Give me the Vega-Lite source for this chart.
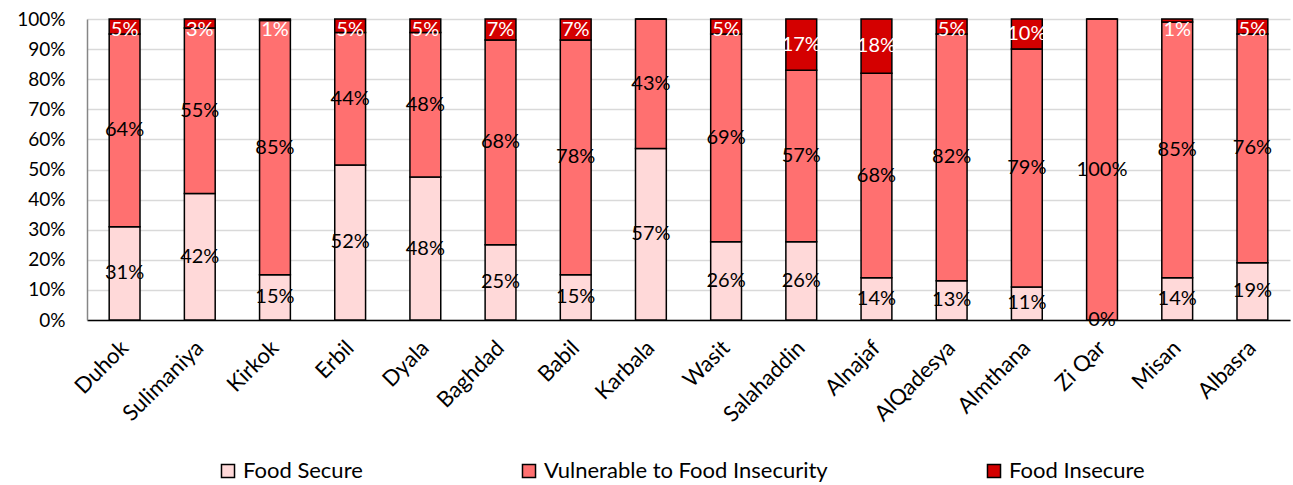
{
  "$schema": "https://vega.github.io/schema/vega-lite/v6.json",
  "width": 1203,
  "height": 301,
  "autosize": {"type": "none"},
  "padding": {"left": 87, "top": 19, "right": 3, "bottom": 165},
  "background": "white",
  "config": {
    "font": "Lato",
    "view": {"stroke": null},
    "axis": {"labelFont": "Lato", "labelColor": "#000000"}
  },
  "data": {
    "values": [
      {"region": "Duhok", "cat": "Food Secure", "idx": 1, "v": 0.31},
      {"region": "Duhok", "cat": "Vulnerable to Food Insecurity", "idx": 2, "v": 0.64},
      {"region": "Duhok", "cat": "Food Insecure", "idx": 3, "v": 0.05},
      {"region": "Sulimaniya", "cat": "Food Secure", "idx": 1, "v": 0.42},
      {"region": "Sulimaniya", "cat": "Vulnerable to Food Insecurity", "idx": 2, "v": 0.55},
      {"region": "Sulimaniya", "cat": "Food Insecure", "idx": 3, "v": 0.03},
      {"region": "Kirkok", "cat": "Food Secure", "idx": 1, "v": 0.15},
      {"region": "Kirkok", "cat": "Vulnerable to Food Insecurity", "idx": 2, "v": 0.845},
      {"region": "Kirkok", "cat": "Food Insecure", "idx": 3, "v": 0.005},
      {"region": "Erbil", "cat": "Food Secure", "idx": 1, "v": 0.515},
      {"region": "Erbil", "cat": "Vulnerable to Food Insecurity", "idx": 2, "v": 0.44},
      {"region": "Erbil", "cat": "Food Insecure", "idx": 3, "v": 0.045},
      {"region": "Dyala", "cat": "Food Secure", "idx": 1, "v": 0.475},
      {"region": "Dyala", "cat": "Vulnerable to Food Insecurity", "idx": 2, "v": 0.48},
      {"region": "Dyala", "cat": "Food Insecure", "idx": 3, "v": 0.045},
      {"region": "Baghdad", "cat": "Food Secure", "idx": 1, "v": 0.25},
      {"region": "Baghdad", "cat": "Vulnerable to Food Insecurity", "idx": 2, "v": 0.68},
      {"region": "Baghdad", "cat": "Food Insecure", "idx": 3, "v": 0.07},
      {"region": "Babil", "cat": "Food Secure", "idx": 1, "v": 0.15},
      {"region": "Babil", "cat": "Vulnerable to Food Insecurity", "idx": 2, "v": 0.78},
      {"region": "Babil", "cat": "Food Insecure", "idx": 3, "v": 0.07},
      {"region": "Karbala", "cat": "Food Secure", "idx": 1, "v": 0.57},
      {"region": "Karbala", "cat": "Vulnerable to Food Insecurity", "idx": 2, "v": 0.43},
      {"region": "Karbala", "cat": "Food Insecure", "idx": 3, "v": 0},
      {"region": "Wasit", "cat": "Food Secure", "idx": 1, "v": 0.26},
      {"region": "Wasit", "cat": "Vulnerable to Food Insecurity", "idx": 2, "v": 0.69},
      {"region": "Wasit", "cat": "Food Insecure", "idx": 3, "v": 0.05},
      {"region": "Salahaddin", "cat": "Food Secure", "idx": 1, "v": 0.26},
      {"region": "Salahaddin", "cat": "Vulnerable to Food Insecurity", "idx": 2, "v": 0.57},
      {"region": "Salahaddin", "cat": "Food Insecure", "idx": 3, "v": 0.17},
      {"region": "Alnajaf", "cat": "Food Secure", "idx": 1, "v": 0.14},
      {"region": "Alnajaf", "cat": "Vulnerable to Food Insecurity", "idx": 2, "v": 0.68},
      {"region": "Alnajaf", "cat": "Food Insecure", "idx": 3, "v": 0.18},
      {"region": "AlQadesya", "cat": "Food Secure", "idx": 1, "v": 0.13},
      {"region": "AlQadesya", "cat": "Vulnerable to Food Insecurity", "idx": 2, "v": 0.82},
      {"region": "AlQadesya", "cat": "Food Insecure", "idx": 3, "v": 0.05},
      {"region": "Almthana", "cat": "Food Secure", "idx": 1, "v": 0.11},
      {"region": "Almthana", "cat": "Vulnerable to Food Insecurity", "idx": 2, "v": 0.79},
      {"region": "Almthana", "cat": "Food Insecure", "idx": 3, "v": 0.10},
      {"region": "Zi Qar", "cat": "Food Secure", "idx": 1, "v": 0},
      {"region": "Zi Qar", "cat": "Vulnerable to Food Insecurity", "idx": 2, "v": 1.0},
      {"region": "Zi Qar", "cat": "Food Insecure", "idx": 3, "v": 0},
      {"region": "Misan", "cat": "Food Secure", "idx": 1, "v": 0.14},
      {"region": "Misan", "cat": "Vulnerable to Food Insecurity", "idx": 2, "v": 0.85},
      {"region": "Misan", "cat": "Food Insecure", "idx": 3, "v": 0.01},
      {"region": "Albasra", "cat": "Food Secure", "idx": 1, "v": 0.19},
      {"region": "Albasra", "cat": "Vulnerable to Food Insecurity", "idx": 2, "v": 0.76},
      {"region": "Albasra", "cat": "Food Insecure", "idx": 3, "v": 0.05}
    ]
  },
  "transform": [
    {"stack": "v", "groupby": ["region"], "sort": [{"field": "idx", "order": "ascending"}], "offset": "normalize", "as": ["y0", "y1"]},
    {"calculate": "min((datum.y0 + datum.y1) / 2, 0.962)", "as": "ymid"}
  ],
  "encoding": {
    "x": {
      "field": "region",
      "type": "nominal",
      "sort": null,
      "scale": {"paddingInner": 0.59, "paddingOuter": 0.295},
      "axis": {
        "title": null,
        "labelAngle": -45,
        "labelAlign": "right",
        "labelBaseline": "middle",
        "labelFontSize": 22,
        "labelPadding": 24,
        "ticks": false,
        "domainColor": "#000000",
        "domainWidth": 1.5,
        "grid": false
      }
    }
  },
  "layer": [
    {
      "mark": {"type": "bar", "stroke": "#000000", "strokeWidth": 1.5},
      "encoding": {
        "y": {
          "field": "y0",
          "type": "quantitative",
          "scale": {"domain": [0, 1], "nice": false},
          "axis": {
            "title": null,
            "format": ".0%",
            "values": [0, 0.1, 0.2, 0.3, 0.4, 0.5, 0.6, 0.7, 0.8, 0.9, 1],
            "labelOverlap": false,
            "labelFontSize": 19,
            "labelPadding": 22,
            "ticks": false,
            "domainColor": "#868686",
            "domainWidth": 1.5,
            "gridColor": "#D9D9D9",
            "gridWidth": 1.5
          }
        },
        "y2": {"field": "y1"},
        "color": {
          "field": "cat",
          "type": "nominal",
          "sort": ["Food Secure", "Vulnerable to Food Insecurity", "Food Insecure"],
          "scale": {
            "domain": ["Food Secure", "Vulnerable to Food Insecurity", "Food Insecure"],
            "range": ["#FFD9D9", "#FF7070", "#D40000"]
          },
          "legend": {
            "title": null,
            "orient": "none",
            "legendX": 130,
            "legendY": 441,
            "direction": "horizontal",
            "columns": 3,
            "columnPadding": 155,
            "symbolType": "square",
            "symbolSize": 170,
            "symbolStrokeColor": "#000000",
            "symbolStrokeWidth": 1.5,
            "symbolOpacity": 1,
            "labelFontSize": 22,
            "labelFont": "Lato",
            "labelColor": "#000000",
            "labelLimit": 500,
            "labelOffset": 4
          }
        }
      }
    },
    {
      "transform": [{"filter": "datum.idx < 3"}],
      "mark": {"type": "text", "fontSize": 20, "color": "#000000", "baseline": "middle"},
      "encoding": {
        "y": {
          "field": "ymid",
          "type": "quantitative",
          "axis": {
            "title": null,
            "format": ".0%",
            "values": [0, 0.1, 0.2, 0.3, 0.4, 0.5, 0.6, 0.7, 0.8, 0.9, 1],
            "labelOverlap": false,
            "labelFontSize": 19,
            "labelPadding": 22,
            "ticks": false,
            "domainColor": "#868686",
            "domainWidth": 1.5,
            "gridColor": "#D9D9D9",
            "gridWidth": 1.5
          }
        },
        "text": {"field": "v", "type": "quantitative", "format": ".0%"}
      }
    },
    {
      "transform": [{"filter": "datum.idx == 3 && datum.v > 0"}],
      "mark": {"type": "text", "fontSize": 20, "color": "#FFFFFF", "baseline": "middle"},
      "encoding": {
        "y": {
          "field": "ymid",
          "type": "quantitative",
          "axis": {
            "title": null,
            "format": ".0%",
            "values": [0, 0.1, 0.2, 0.3, 0.4, 0.5, 0.6, 0.7, 0.8, 0.9, 1],
            "labelOverlap": false,
            "labelFontSize": 19,
            "labelPadding": 22,
            "ticks": false,
            "domainColor": "#868686",
            "domainWidth": 1.5,
            "gridColor": "#D9D9D9",
            "gridWidth": 1.5
          }
        },
        "text": {"field": "v", "type": "quantitative", "format": ".0%"}
      }
    }
  ]
}
